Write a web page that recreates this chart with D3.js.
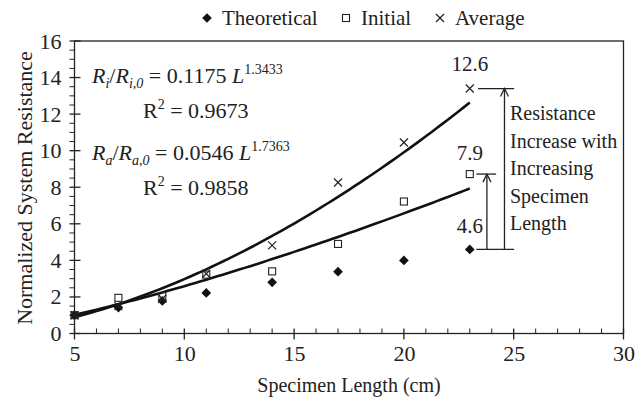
<!DOCTYPE html>
<html>
<head>
<meta charset="utf-8">
<script src="https://cdn.jsdelivr.net/npm/d3@7"></script>
<style>
  body { margin: 0; background: #fff; }
</style>
</head>
<body>
<script>
'use strict';

// specimen lengths (cm)
const lengths = [5, 7, 9, 11, 14, 17, 20, 23];
// normalized resistance
const theoretical = [1.0, 1.42, 1.78, 2.22, 2.8, 3.38, 4.0, 4.6];
const initial = [1.0, 1.95, 2.05, 3.22, 3.4, 4.9, 7.22, 8.72];
const average = [1.0, 1.5, 1.9, 3.27, 4.82, 8.26, 10.45, 13.4];

// power fits shown on the chart: y = a * L^b
const fitInitial = [0.1175, 1.3433];
const fitAverage = [0.0546, 1.7363];
const fitRange = [5, 23];

const xTicks = [5, 10, 15, 20, 25, 30];
const yTicks = [0, 2, 4, 6, 8, 10, 12, 14, 16];

const FONT = '"Liberation Serif", "Times New Roman", Times, "Nimbus Roman", "Nimbus Roman No9 L", Tinos, "Noto Serif", "DejaVu Serif", FreeSerif, serif';

const width = 635, height = 405;
const svg = d3.select('body').append('svg')
  .attr('width', width)
  .attr('height', height)
  .style('font-family', FONT);

const x = d3.scaleLinear().domain([5, 30]).range([74.5, 623.5]);
const y = d3.scaleLinear().domain([0, 16]).range([333.5, 41]);

function addText(g, px, py, size) {
  return g.append('text')
    .attr('x', px).attr('y', py)
    .style('font-family', FONT)
    .attr('font-size', size)
    .attr('fill', '#222');
}

// frame
svg.append('rect')
  .attr('x', x(5)).attr('y', y(16))
  .attr('width', x(30) - x(5)).attr('height', y(0) - y(16))
  .attr('fill', 'none').attr('stroke', '#222').attr('stroke-width', 1.3);

// minor ticks: x inside, y outside
svg.append('g').selectAll('line')
  .data(d3.range(5, 31).filter(v => v % 5 !== 0))
  .enter().append('line')
  .attr('x1', d => x(d)).attr('x2', d => x(d))
  .attr('y1', y(0)).attr('y2', y(0) - 5)
  .attr('stroke', '#222').attr('stroke-width', 1);

svg.append('g').selectAll('line')
  .data(d3.range(0, 16.01, 0.5).filter(v => v % 2 !== 0))
  .enter().append('line')
  .attr('x1', x(5) - 5).attr('x2', x(5))
  .attr('y1', d => y(d)).attr('y2', d => y(d))
  .attr('stroke', '#222').attr('stroke-width', 1);

// major ticks through the axes
const xAxis = d3.axisBottom(x).tickValues(xTicks).tickSize(0).tickPadding(12);
const gx = svg.append('g').attr('transform', 'translate(0,' + y(0) + ')').call(xAxis);
gx.select('.domain').remove();
gx.attr('font-size', 22);
gx.selectAll('text').style('font-family', FONT).attr('fill', '#222');
svg.append('g').selectAll('line').data(xTicks).enter().append('line')
  .attr('x1', d => x(d)).attr('x2', d => x(d))
  .attr('y1', y(0) - 5).attr('y2', y(0) + 6)
  .attr('stroke', '#222').attr('stroke-width', 1.3);

const yAxis = d3.axisLeft(y).tickValues(yTicks).tickSize(0).tickPadding(13);
const gy = svg.append('g').attr('transform', 'translate(' + x(5) + ',0)').call(yAxis);
gy.select('.domain').remove();
gy.attr('font-size', 22);
gy.selectAll('text').style('font-family', FONT).attr('fill', '#222');
svg.append('g').selectAll('line').data(yTicks).enter().append('line')
  .attr('x1', x(5) - 5).attr('x2', x(5) + 6)
  .attr('y1', d => y(d)).attr('y2', d => y(d))
  .attr('stroke', '#222').attr('stroke-width', 1.3);

// axis titles
addText(svg, 349, 392, 20)
  .attr('text-anchor', 'middle')
  .text('Specimen Length (cm)');

addText(svg, 0, 0, 22)
  .attr('transform', 'translate(32,' + 188 + ')rotate(-90)')
  .attr('text-anchor', 'middle')
  .text('Normalized System Resistance');

// trend lines
function fitPoints(fit) {
  let pts = [];
  for (let L = fitRange[0]; L <= fitRange[1] + 1e-9; L += 0.25) {
    pts.push([L, fit[0] * Math.pow(L, fit[1])]);
  }
  return pts;
}
const line = d3.line().x(d => x(d[0])).y(d => y(d[1]));
[fitInitial, fitAverage].forEach(fit => {
  svg.append('path')
    .attr('d', line(fitPoints(fit)))
    .attr('fill', 'none')
    .attr('stroke', '#111')
    .attr('stroke-width', 2.6)
    .attr('stroke-linejoin', 'round');
});

// markers
const diamond = d3.symbol().type(d3.symbolDiamond2).size(60);
function drawMarkers(values, kind) {
  let g = svg.append('g');
  values.forEach((v, i) => {
    drawMarker(g, kind, x(lengths[i]), y(v));
  });
}
function drawMarker(g, kind, cx, cy) {
  if (kind === 'diamond') {
    g.append('path').attr('d', diamond())
      .attr('transform', 'translate(' + cx + ',' + cy + ')')
      .attr('fill', '#111');
  } else if (kind === 'square') {
    g.append('rect')
      .attr('x', cx - 3.5).attr('y', cy - 3.5)
      .attr('width', 7).attr('height', 7)
      .attr('fill', 'none').attr('stroke', '#222').attr('stroke-width', 1.1);
  } else {
    g.append('path')
      .attr('d', 'M' + (cx - 4) + ',' + (cy - 4) + 'L' + (cx + 4) + ',' + (cy + 4) +
        'M' + (cx - 4) + ',' + (cy + 4) + 'L' + (cx + 4) + ',' + (cy - 4))
      .attr('stroke', '#222').attr('stroke-width', 1.2);
  }
}
drawMarkers(theoretical, 'diamond');
drawMarkers(initial, 'square');
drawMarkers(average, 'cross');

// legend
const legendItems = [
  {label: 'Theoretical', kind: 'diamond', x: 207},
  {label: 'Initial', kind: 'square', x: 346},
  {label: 'Average', kind: 'cross', x: 440}
];
const lg = svg.append('g');
legendItems.forEach(item => {
  drawMarker(lg, item.kind, item.x, 18);
  addText(lg, item.x + 15, 25, 21).text(item.label);
});

// equations
function equation(xPos, yPos, sym, coef, expo) {
  let t = addText(svg, xPos, yPos, 22);
  t.append('tspan').attr('font-style', 'italic').text('R');
  t.append('tspan').attr('font-style', 'italic').attr('font-size', 14).attr('dy', 5).text(sym);
  t.append('tspan').attr('dy', -5).text('/');
  t.append('tspan').attr('font-style', 'italic').text('R');
  t.append('tspan').attr('font-style', 'italic').attr('font-size', 14).attr('dy', 5).text(sym + ',0');
  t.append('tspan').attr('dy', -5).text(' = ' + coef + ' ');
  t.append('tspan').attr('font-style', 'italic').text('L');
  t.append('tspan').attr('font-size', 14).attr('dy', -9).text(expo);
}
function rSquared(xPos, yPos, val) {
  let t = addText(svg, xPos, yPos, 22);
  t.append('tspan').text('R');
  t.append('tspan').attr('font-size', 14).attr('dy', -9).text('2');
  t.append('tspan').attr('dy', 9).text(' = ' + val);
}
equation(92, 83, 'i', '0.1175', '1.3433');
rSquared(143, 118, '0.9673');
equation(92, 160, 'a', '0.0546', '1.7363');
rSquared(143, 195, '0.9858');

// annotation of the increase at 23 cm
const last = lengths.length - 1;
const annoLines = [
  {v: average[last], x1: 23.38, x2: 25.02},
  {v: initial[last], x1: 23.3, x2: 24.2},
  {v: theoretical[last], x1: 23.3, x2: 25.02}
];
annoLines.forEach(a => {
  svg.append('line')
    .attr('x1', x(a.x1)).attr('x2', x(a.x2))
    .attr('y1', y(a.v)).attr('y2', y(a.v))
    .attr('stroke', '#222').attr('stroke-width', 1.3);
});
function arrow(xv, fromV, toV) {
  let ax = x(xv), y1 = y(fromV), y2 = y(toV);
  svg.append('line').attr('x1', ax).attr('x2', ax).attr('y1', y1).attr('y2', y2)
    .attr('stroke', '#222').attr('stroke-width', 1.3);
  svg.append('path')
    .attr('d', 'M' + (ax - 4) + ',' + (y2 + 8) + 'L' + ax + ',' + y2 + 'L' + (ax + 4) + ',' + (y2 + 8))
    .attr('fill', 'none').attr('stroke', '#222').attr('stroke-width', 1.3);
}
arrow(23.78, theoretical[last], initial[last]);
arrow(24.58, theoretical[last], average[last]);

const valueLabels = [
  {text: '12.6', yPix: 71},
  {text: '7.9', yPix: 160},
  {text: '4.6', yPix: 233}
];
valueLabels.forEach(l => {
  addText(svg, x(23), l.yPix, 21)
    .attr('text-anchor', 'middle')
    .text(l.text);
});

const noteLines = ['Resistance', 'Increase with', 'Increasing', 'Specimen', 'Length'];
noteLines.forEach((d, i) => {
  addText(svg, 510, 120 + i * 27.6, 20).text(d);
});
</script>
</body>
</html>
